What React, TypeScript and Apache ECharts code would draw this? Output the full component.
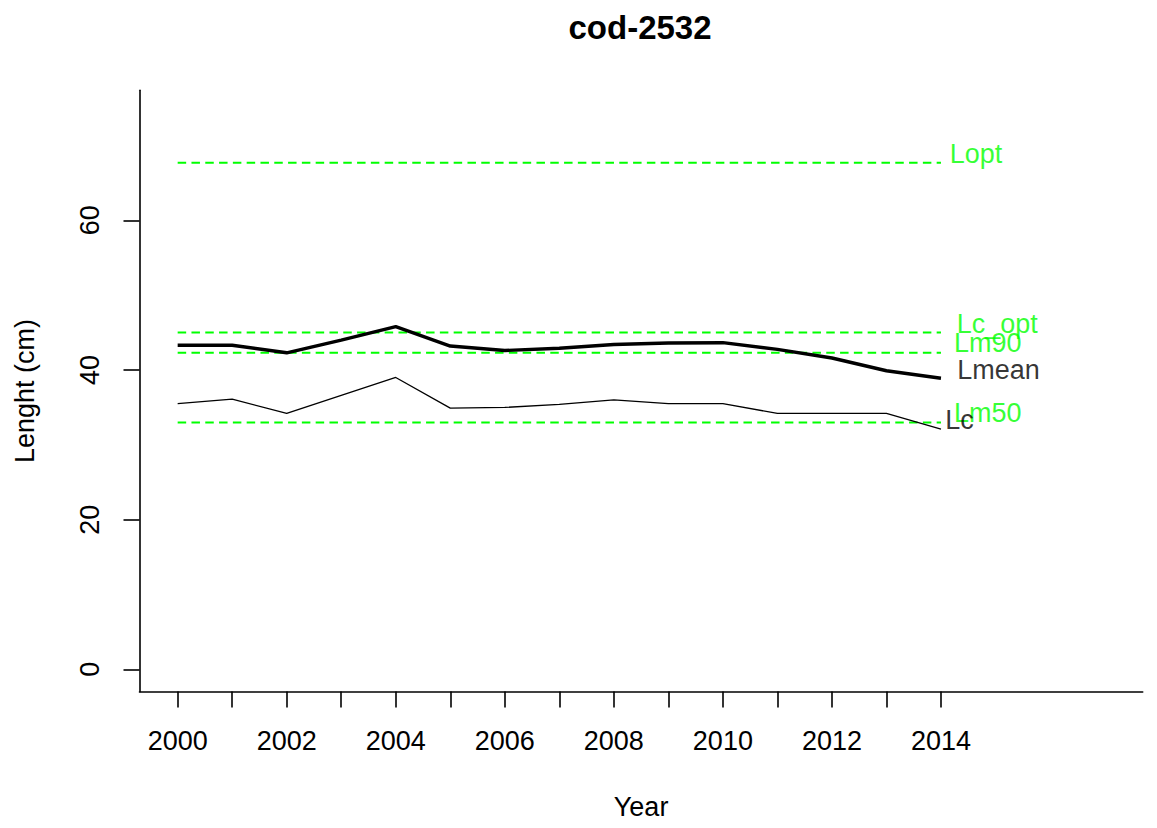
import React, { useEffect, useRef } from "react";
import * as echarts from "echarts";

const years = [2000, 2001, 2002, 2003, 2004, 2005, 2006, 2007, 2008, 2009, 2010, 2011, 2012, 2013, 2014];
const lmean = [43.3, 43.3, 42.3, 44.0, 45.8, 43.2, 42.6, 42.9, 43.4, 43.6, 43.65, 42.75, 41.6, 39.9, 38.9];
const lc = [35.5, 36.1, 34.2, 36.6, 39.0, 34.9, 35.0, 35.4, 36.0, 35.5, 35.5, 34.2, 34.2, 34.2, 32.1];

const refNames = ["Lopt", "Lc_opt", "Lm90", "Lm50"];
const refValues = [67.7, 45.0, 42.3, 33.0];

const xTickValues = years;
const xLabelValues = [2000, 2002, 2004, 2006, 2008, 2010, 2012, 2014];
const yTickValues = [0, 20, 40, 60];

// label anchors (text left edge, vertical middle) in data coordinates
const labelNames = ["Lopt", "Lc_opt", "Lm90", "Lmean", "Lm50", "Lc"];
const labelX = [2014.16, 2014.29, 2014.24, 2014.3, 2014.24, 2014.08];
const labelY = [68.9, 46.2, 43.55, 39.95, 34.2, 33.3];
const labelColors = ["#00ff00", "#00ff00", "#00ff00", "#000000", "#00ff00", "#000000"];

const FONT = "Liberation Sans, Arial, sans-serif";

export default function App() {
  const ref = useRef<HTMLDivElement>(null);
  useEffect(() => {
    if (!ref.current) return;
    const chart = echarts.init(ref.current, undefined, { renderer: "svg" });
    const refSeries = refNames.map((n, i) => ({
      name: n,
      type: "line",
      data: [
        [years[0], refValues[i]],
        [years[years.length - 1], refValues[i]],
      ],
      symbol: "none",
      silent: true,
      lineStyle: { color: "#00ff00", width: 2, type: [8.5, 5.3] },
      z: 2,
    }));
    chart.setOption({
      animation: false,
      backgroundColor: "#ffffff",
      textStyle: { fontFamily: FONT },
      title: {
        text: "cod-2532",
        left: 635,
        textAlign: "center",
        top: 6,
        textStyle: { fontFamily: FONT, fontSize: 33, fontWeight: "bold", color: "#000" },
      },
      grid: {
        left: 139.5,
        right: 14.3,
        top: 90.3,
        bottom: 136.4,
        containLabel: false,
        outerBoundsMode: "none",
      },
      xAxis: {
        type: "value",
        min: 1999.3,
        max: 2017.7,
        name: "Year",
        nameLocation: "middle",
        nameGap: 102,
        nameTextStyle: { fontFamily: FONT, fontSize: 27, color: "#000" },
        axisLine: { show: true, onZero: false, lineStyle: { color: "#000", width: 1.6 } },
        axisTick: { show: true, length: 16, customValues: xTickValues, lineStyle: { color: "#000", width: 1.6 } },
        axisLabel: {
          customValues: xLabelValues,
          formatter: (v: number) => String(Math.round(v)),
          fontSize: 27,
          fontFamily: FONT,
          color: "#000",
          margin: 36,
        },
        splitLine: { show: false },
      },
      yAxis: {
        type: "value",
        min: -2.976,
        max: 77.376,
        name: "Lenght (cm)",
        nameLocation: "middle",
        nameGap: 101,
        nameTextStyle: { fontFamily: FONT, fontSize: 27, color: "#000" },
        axisLine: { show: true, onZero: false, lineStyle: { color: "#000", width: 1.6 } },
        axisTick: { show: true, length: 16, customValues: yTickValues, lineStyle: { color: "#000", width: 1.6 } },
        axisLabel: {
          customValues: yTickValues,
          formatter: (v: number) => String(Math.round(v)),
          rotate: 90,
          fontSize: 27,
          fontFamily: FONT,
          color: "#000",
          margin: 36,
        },
        splitLine: { show: false },
      },
      series: [
        ...refSeries,
        {
          name: "Lmean",
          type: "line",
          data: years.map((y, i) => [y, lmean[i]]),
          symbol: "none",
          lineStyle: { color: "#000", width: 3.4 },
          z: 3,
        },
        {
          name: "Lc",
          type: "line",
          data: years.map((y, i) => [y, lc[i]]),
          symbol: "none",
          lineStyle: { color: "#000", width: 1.3 },
          z: 3,
        },
        {
          name: "labels",
          type: "scatter",
          symbolSize: 0,
          silent: true,
          z: 4,
          data: labelNames.map((n, i) => ({
            name: n,
            value: [labelX[i], labelY[i]],
            label: {
              show: true,
              position: "right",
              distance: 0,
              formatter: n,
              fontFamily: FONT,
              fontSize: 27,
              color: labelColors[i],
            },
          })),
        },
      ],
    });
    return () => chart.dispose();
  }, []);
  return (
    <div
      ref={ref}
      style={{ position: "fixed", left: 0, top: 0, width: 1157, height: 828, background: "#fff" }}
    />
  );
}
